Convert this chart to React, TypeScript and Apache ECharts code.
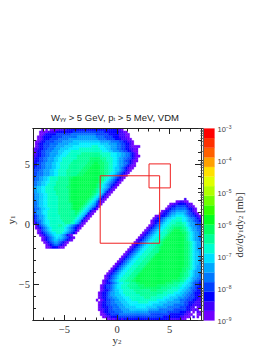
import React, { useEffect, useRef } from "react";
import * as echarts from "echarts";

const titleParts = "W{s|γγ} > 5 GeV, p{s|t} > 5 MeV, VDM";
const majorTicks = [-5, 0, 5];
const minorTicks = [-7, -6, -4, -3, -2, -1, 1, 2, 3, 4, 6, 7];
const decades = [-9, -8, -7, -6, -5, -4, -3];
const minorFactors = [2, 3, 4, 5, 6, 7, 8, 9];
const boxA = [[-1.6, -1.56], [4.06, -1.56], [4.06, 4.06], [-1.6, 4.06], [-1.6, -1.56]];
const boxB = [[3.05, 3.05], [5.08, 3.05], [5.08, 5.05], [3.05, 5.05], [3.05, 3.05]];

const cellColors = ["#7000ff", "#4000ff", "#0000ff", "#0040ff", "#0070ff", "#00a0ff", "#00ccff", "#00f0ff", "#00ffc8", "#00ff98", "#00ff70", "#00ff50"];
const barColors = ["#7000ff", "#4000ff", "#0000ff", "#0040ff", "#0078ff", "#00a8ff", "#00e0ff", "#00ffd0", "#00ff98", "#00ff60", "#00ff20", "#30ff00", "#70ff00", "#b0ff00", "#e0ff00", "#ffe000", "#ffa000", "#ff6000", "#ff3000", "#ff0000"];

// upper-left lobe, rows from y1 = 8 downward, columns from y2 = -8, 0.2 wide
const upperLobe = [
  "....0.0.00 1011112222 2222222222 2222222222 110",
  "...0000111 1222222223 3333333333 3333222222 21100",
  "...0012222 2333333344 4444444444 3333332222 211100",
  "..00122223 3333444444 4555555555 4444333322 211100",
  "..00122233 3344444555 5555555555 5444433332 2211100",
  ".001223333 4444555556 6666666666 6655555444 43322110",
  ".012233344 4455555666 6677777777 7766665555 44332210",
  ".012233344 4555566667 7777777788 8777666555 4433221000 0",
  "0112233444 5556666777 7788888888 8877766555 4433221100",
  "0122334445 5566677788 8888888888 8887776655 5443322100",
  "0122334455 5566777888 8889999999 9988888777 6655443210",
  "1122334455 5667778888 8999999999 9998888777 6655443210 0",
  "1223344555 6677888888 8999999aaa aa99988877 6554433210",
  "1223344555 6677888889 9999999aaa aaa9988877 6554332100",
  "2233445556 6778888899 999999aaab baaa998877 655443210",
  "2233445556 6778888999 99999aaabb bbaa998877 655432100",
  "2333445556 6778888999 9999aaabbb bbaa998876 65432100",
  "3334455566 7788889999 999aaabbbb bbaa998876 6543210",
  "3344455566 7788889999 99aaabbbbb bbaa998776 543210",
  "3344455566 7788889999 9aaabbbbbb bbaa987765 43210",
  "3445566788 8899999aab bbbbbbbbbb baa9887654 3210",
  "3445566788 8899999abb bbbbbbbbbb baa9876543 210",
  "4455667788 8999999abb bbbbbbbbbb ba98765432 10",
  "4455667888 8999999abb bbbbbbbbbb a987654321 0",
  "5566778888 999999aabb bbbbbbbbbb a987654210",
  "5566778888 9999999abb bbbbbbbbba 987654210",
  "5566778888 8999999abb bbbbbbbbaa 98764210",
  "4556677888 8999999abb bbbbbbbba9 8764210",
  "4556677888 8899999abb bbbbbbba98 764210",
  "4556677888 8899999abb bbbbbba987 64210",
  "4456677888 8899999abb bbbbba9876 4210",
  "4456677888 88999999ab bbbba98765 310",
  "4456677888 88999999ab bbba987654 20",
  "3445667788 88999999ab bba9876532 0",
  "3455677888 8899999999 aa98765210",
  "3455677888 8899999999 a98765210",
  "2345567888 8889999999 98765210",
  "2345567888 8889999999 8765210",
  "1344567788 8888999998 765210",
  "0234567788 8888899988 65310",
  ".023456788 8899887654 3210",
  ".012345678 8888876543 210",
  "..01345678 8888876543 20",
  "..01234567 7888765432 0",
  "...0123456 777654210",
  "....012345 6766543210",
  "....012345 665543210",
  ".....01234 5543210",
  "......0123 443210",
  "......0012 22100",
];

// lower-right lobe, rows from y1 = 2.2 downward, columns from y2 = -2, 0.2 wide
const lowerLobe = [
  ".......... .......... .......... .......... ..1",
  ".......... .......... .......... ........00 1100",
  ".......... .......... .......... .....00112 222110",
  ".......... .......... .......... ....012233 3332110",
  ".......... .......... .......... ...0123344 44432210",
  ".......... .......... .......... .012234455 55543210",
  ".......... .......... .......... 0122345566 665433210",
  ".......... .......... ........00 1223456677 7765433210",
  ".......... .......... .......012 2345667788 8776544321",
  ".......... .......... ......0122 3456778888 8776554332",
  ".......... .......... ......0123 4567788899 9887655433",
  ".......... .......... .....01234 5677889999 9987655443",
  ".......... .......... ....012345 6778899aaa a998765544",
  ".......... .......... ...0123456 778899abbb aa98765544",
  ".......... .......... ..01234567 78889abbbb baa9876554",
  ".......... .......... .012345677 8889abbbbb bba9876554",
  ".......... .......... 0123456778 889abbbbbb bba9876554",
  ".......... .........0 1234567788 89abbbbbbb bba9876554",
  ".......... ........01 2345677888 9abbbbbbbb bbaa987655",
  ".......... .......012 3456778889 9abbbbbbbb bbaa987655",
  ".......... ......0123 4567788899 abbbbbbbbb bbaa987655",
  ".......... .....01234 5677888999 abbbbbbbbb bbaa987655",
  ".......... ....012345 6778889999 bbbbbbbbbb bbaa987665",
  ".......... ...0123456 7788899 9ab bbbbbbbbbb bbaa987665",
  ".......... ..01234567 7888999abb bbbbbbbbbb bbaa987665",
  ".......... .012345677 888999abbb bbbbbbbbbb bbaa987665",
  ".......... 0123456778 88999abbbb bbbbbbbbbb bbaa987665",
  ".........0 1234567788 8999abbbbb bbbbbbbbbb bbaa987665",
  "........01 2345677888 999abbbbbb bbbbbbbbbb bbaa987655",
  ".......012 3456778889 99abbbbbbb bbbbbbbbbb baa9987655",
  "......0123 4567788899 9abbbbbbbb bbbbbbbbbb baa9876555",
  ".....01234 5677888999 abbbbbbbbb bbbbbbbbbb aa99876554",
  "....012345 677888999a bbbbbbbbbb bbbbbbbbbb aa99876554",
  "....012345 678889 99ab bbbbbbbbbb bbbbbbbbba a998765544",
  "...0123456 7888999aab bbbbbbbbbb bbbbbbaaaa 9987765443",
  "...0122345 677888 999a abbbbbbbbb bbbaaaa999 8877654332",
  "..01233456 7788899999 aaabbbbbba aaaa999998 8776654332",
  "..01233456 7788889999 9aaaaaaaaa a999998888 7766544322",
  "..01223456 6778888899 999999aaa9 9999888887 7665543322",
  ".012234556 6778888889 9999999999 9988888777 6655443222",
  ".012234556 6677888888 8999999998 8888777766 6554433221",
  ".012234455 6667778888 8889998888 8877766665 5544333221",
  "0.01233445 5666777888 8888888887 7776666555 4443332211",
  ".012233445 5566677777 8888877777 6666555555 4433222111",
  ".012233444 5556667777 7777777666 6655555444 4433221111",
  ".012223344 4555666667 7777666665 5555444444 3332211.01",
  ".011223344 4455556666 6666655555 4444444333 333221010.",
  "..01223334 4445555555 5555544444 4444333333 22211.0.10",
  "..00122333 3444444444 4444443333 3333322222 221100..00",
  "...0011222 3333333333 3333333333 3322222222 11000.1.0.",
  ".....00101 1212222222 2222222222 2222211111 100.......",
];

const BIN = 0.2;

function cellsFrom(rows: string[], firstCol: number, firstRow: number) {
  const out: number[][] = [];
  rows.forEach((row, r) => {
    row.replace(/ /g, "").split("").forEach((c, k) => {
      if (c === ".") return;
      out.push([-8 + (firstCol + k) * BIN, 8 - (firstRow + r) * BIN, parseInt(c, 36)]);
    });
  });
  return out;
}

const serif = "Liberation Serif";
const sans = "Liberation Sans";
const ink = "#222";

function sideAxis(position: string, ticks: number[], len: number, grid: number, labelled: boolean) {
  return {
    type: "value", gridIndex: grid, position, min: -8, max: 8, interval: 1, z: 5,
    splitLine: { show: false },
    axisLine: { show: true, onZero: false, lineStyle: { color: ink, width: 1 } },
    axisTick: { show: true, inside: true, length: len, customValues: ticks, lineStyle: { color: ink, width: 1 } },
    axisLabel: labelled
      ? { show: true, customValues: ticks, margin: 3, fontFamily: serif, fontSize: 10.5, color: "#333", formatter: (v: number) => (v < 0 ? `−${-v}` : `${v}`) }
      : { show: false },
  };
}

export default function App() {
  const ref = useRef<HTMLDivElement>(null);
  useEffect(() => {
    const chart = echarts.init(ref.current!, null, { renderer: "svg" });
    const rect = { left: 33, right: 71, top: 128.5, bottom: 31.5 };
    const barRect = { left: 203, right: 57.5, top: 128.5, bottom: 31.5 };
    const cells = [...cellsFrom(upperLobe, 0, 0), ...cellsFrom(lowerLobe, 30, 29)];
    const barMinor = decades.slice(0, -1).flatMap((d) => minorFactors.map((f) => d + Math.log10(f)));
    const subs = {
      s: { fontSize: 7, fontFamily: serif, color: "#333", verticalAlign: "bottom", lineHeight: 8 },
    };
    chart.setOption({
      animation: false,
      backgroundColor: "#fff",
      grid: [rect, rect, barRect, barRect],
      xAxis: [
        sideAxis("bottom", majorTicks, 5.5, 0, true),
        sideAxis("top", majorTicks, 5.5, 0, false),
        sideAxis("bottom", minorTicks, 3, 1, false),
        sideAxis("top", minorTicks, 3, 1, false),
        { type: "value", gridIndex: 2, min: 0, max: 1, show: false },
        { type: "value", gridIndex: 3, min: 0, max: 1, show: false },
      ],
      yAxis: [
        sideAxis("left", majorTicks, 6, 0, true),
        sideAxis("right", majorTicks, 6, 0, false),
        sideAxis("left", minorTicks, 3, 1, false),
        sideAxis("right", minorTicks, 3, 1, false),
        {
          type: "value", gridIndex: 2, position: "right", min: -9, max: -3, interval: 1, z: 5,
          splitLine: { show: false },
          axisLine: { show: true, lineStyle: { color: "#666", width: 1 } },
          axisTick: { show: true, inside: true, length: 5, lineStyle: { color: "#333", width: 1 } },
          axisLabel: {
            show: true, margin: 3, color: "#444",
            formatter: (v: number) => `{b|10}{e|${v < 0 ? "−" + -v : v}}`,
            rich: {
              b: { fontFamily: sans, fontSize: 7.5, color: "#444", verticalAlign: "bottom", lineHeight: 9 },
              e: { fontFamily: sans, fontSize: 5, color: "#444", verticalAlign: "top", lineHeight: 9 },
            },
          },
        },
        {
          type: "value", gridIndex: 3, position: "right", min: -9, max: -3, interval: 1, z: 5,
          splitLine: { show: false },
          axisLine: { show: false },
          axisTick: { show: true, inside: true, length: 2.5, customValues: barMinor, lineStyle: { color: "#444", width: 0.7 } },
          axisLabel: { show: false },
        },
      ],
      series: [
        {
          type: "custom", xAxisIndex: 0, yAxisIndex: 0, z: 1, silent: true, progressive: 0, clip: false,
          data: cells,
          renderItem: (_p: any, api: any) => {
            const a = api.coord([api.value(0), api.value(1)]);
            const b = api.coord([api.value(0) + BIN, api.value(1) - BIN]);
            const fill = cellColors[api.value(2)];
            return {
              type: "rect",
              shape: { x: a[0], y: a[1], width: b[0] - a[0], height: b[1] - a[1] },
              style: { fill, stroke: fill, lineWidth: 0.3 },
            };
          },
        },
        {
          type: "custom", xAxisIndex: 4, yAxisIndex: 4, z: 1, silent: true, progressive: 0,
          data: barColors.map((_, k) => [k]),
          renderItem: (_p: any, api: any) => {
            const k = api.value(0);
            const a = api.coord([0, -9 + (k + 1) * 0.3]);
            const b = api.coord([1, -9 + k * 0.3]);
            return {
              type: "rect",
              shape: { x: a[0], y: a[1], width: b[0] - a[0], height: b[1] - a[1] },
              style: { fill: barColors[k], stroke: barColors[k], lineWidth: 0.2 },
            };
          },
        },
        { type: "line", xAxisIndex: 0, yAxisIndex: 0, z: 3, data: boxA, showSymbol: false, silent: true, lineStyle: { color: "#f02020", width: 1 } },
        { type: "line", xAxisIndex: 0, yAxisIndex: 0, z: 3, data: boxB, showSymbol: false, silent: true, lineStyle: { color: "#f02020", width: 1 } },
      ],
      graphic: [
        {
          type: "text", x: 115, y: 117, silent: true,
          style: {
            text: titleParts, align: "center", verticalAlign: "middle",
            fontFamily: sans, fontSize: 9.5, fill: "#222",
            rich: { s: { fontFamily: sans, fontSize: 6, fill: "#222", verticalAlign: "bottom", lineHeight: 6, padding: [4, 0, 0, 0] } },
          },
        },
        {
          type: "text", x: 117, y: 340, silent: true,
          style: { text: "y{s|2}", align: "center", verticalAlign: "middle", fontFamily: serif, fontSize: 11, fill: "#333", rich: subs },
        },
        {
          type: "text", x: 11, y: 220, rotation: Math.PI / 2, silent: true,
          style: { text: "y{s|1}", align: "center", verticalAlign: "middle", fontFamily: serif, fontSize: 11, fill: "#333", rich: subs },
        },
        {
          type: "text", x: 239, y: 225, rotation: Math.PI / 2, silent: true,
          style: { text: "dσ/dy{s|1}dy{s|2} [mb]", align: "center", verticalAlign: "middle", fontFamily: serif, fontSize: 10.5, fill: "#333", rich: subs },
        },
      ],
    });
    return () => chart.dispose();
  }, []);
  return <div ref={ref} style={{ position: "fixed", left: 0, top: 0, width: 272, height: 352, background: "#fff" }} />;
}
